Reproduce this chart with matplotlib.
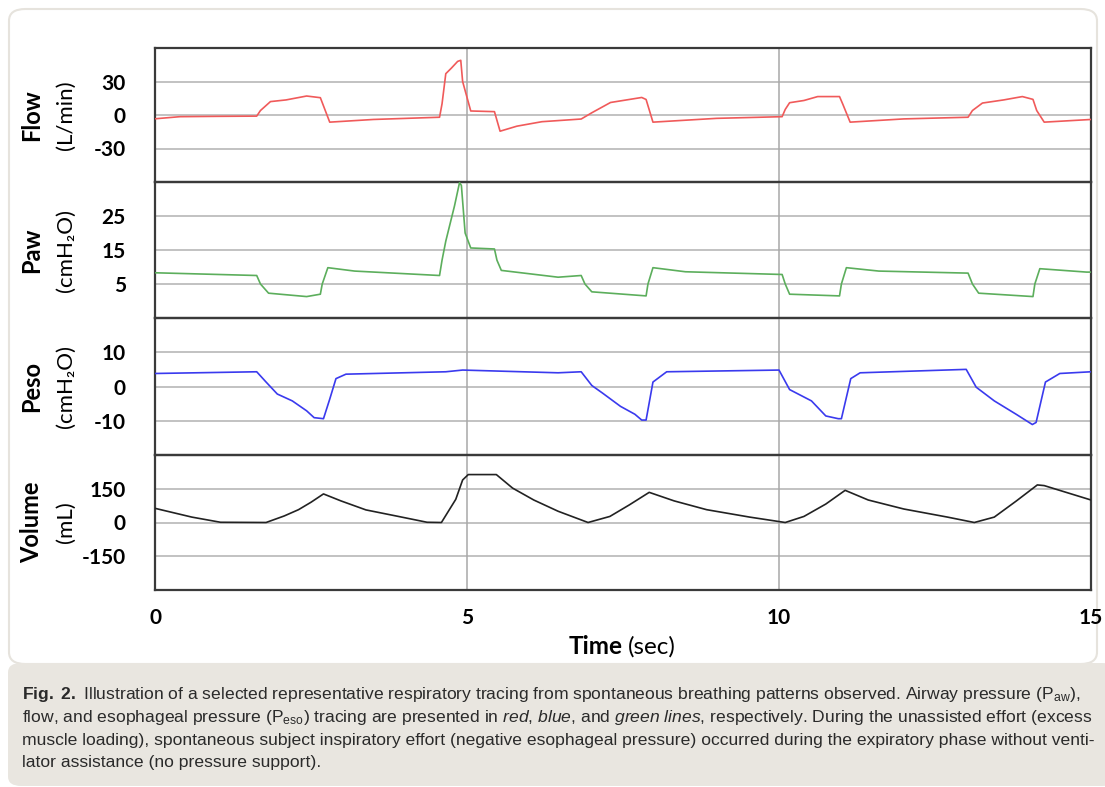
#!/usr/bin/env python3
"""Respiratory tracing figure (flow, Paw, Peso, volume)"""
import matplotlib
matplotlib.use('Agg')
import matplotlib.pyplot as plt
from matplotlib.patches import FancyBboxPatch

plt.rcParams['mathtext.fontset'] = 'custom'
plt.rcParams['mathtext.rm'] = 'Liberation Sans'
plt.rcParams['mathtext.it'] = 'Liberation Sans:italic'
plt.rcParams['mathtext.bf'] = 'Liberation Sans:bold'

W, H = 1105, 787

# ---- data (time in sec) ----
flow_t = [0, 0.4, 1.0, 1.63, 1.69, 1.85, 2.1, 2.43, 2.65, 2.8, 3.5, 4.56, 4.6, 4.66,
          4.75, 4.85, 4.9, 4.93, 5.06, 5.44, 5.53, 5.8, 6.2, 6.83, 7.0, 7.3, 7.8, 7.87,
          7.98, 9.0, 10.05, 10.1, 10.17, 10.4, 10.62, 10.97, 11.02, 11.14, 12.0, 13.03,
          13.1, 13.26, 13.6, 13.9, 14.07, 14.13, 14.25, 15]
flow_v = [-3.4, -1.5, -1.2, -1, 4, 12, 13.5, 17, 15.5, -6.4, -4, -2, 10, 37,
          42, 48, 49, 30, 3.6, 3, -14.5, -10, -6, -3.6, 2, 11.2, 15.7, 13.9,
          -6.4, -3, -1.5, 5, 11, 13, 16.5, 16.5, 10, -6.4, -3.5, -2,
          4, 10.7, 13.5, 16.5, 14, 4, -6.4, -4]

paw_t = [0, 1.63, 1.69, 1.82, 2.43, 2.65, 2.68, 2.77, 3.2, 4.56, 4.6, 4.66, 4.8, 4.88,
         4.91, 4.97, 5.06, 5.44, 5.48, 5.55, 6.46, 6.83, 6.89, 7.0, 7.87, 7.9, 7.98,
         8.5, 10.05, 10.1, 10.17, 10.97, 11.0, 11.08, 11.6, 13.03, 13.1, 13.2, 14.07,
         14.1, 14.18, 14.93, 15]
paw_v = [8.3, 7.5, 5, 2.3, 1.3, 2, 5, 9.8, 8.8, 7.5, 12, 17.6, 28, 34.8,
         34, 20, 15.6, 15.3, 12, 9, 7, 7.5, 5, 2.7, 1.5, 5, 9.8,
         8.6, 7.8, 5, 2, 1.5, 5, 9.8, 8.8, 8.2, 5, 2.3, 1.3,
         5, 9.5, 8.5, 8.5]

peso_t = [0, 1.63, 1.78, 1.96, 2.2, 2.43, 2.55, 2.7, 2.8, 2.9, 3.06, 4.66, 4.93, 6.46,
          6.83, 7.0, 7.17, 7.46, 7.69, 7.8, 7.87, 7.98, 8.2, 10.0, 10.17, 10.52, 10.75,
          10.95, 11.0, 11.15, 11.3, 13.0, 13.16, 13.45, 13.8, 14.06, 14.12, 14.27,
          14.5, 15]
peso_v = [3.8, 4.3, 1.3, -2.2, -4.2, -7.1, -9.1, -9.4, -3.7, 2.3, 3.6, 4.3, 4.8, 4.0,
          4.3, 0.3, -1.9, -5.8, -8.1, -9.8, -9.8, 1.3, 4.3, 4.8, -0.9, -4.2, -8.6,
          -9.4, -9.4, 2.3, 4.0, 5.0, -0.2, -4.2, -8.1, -11.1, -10.5, 1.3,
          3.8, 4.3]

vol_t = [0, 0.59, 1.05, 1.78, 2.07, 2.3, 2.5, 2.7, 2.98, 3.38, 3.9, 4.36, 4.59, 4.82,
         4.93, 5.02, 5.47, 5.73, 6.07, 6.46, 6.94, 7.29, 7.6, 7.92, 8.32, 8.84, 9.53,
         10.1, 10.4, 10.75, 11.06, 11.43, 12.0, 12.7, 13.13, 13.45, 13.8, 14.14, 14.25,
         15]
vol_v = [63, 24, 1, 0, 29, 57, 90, 127, 96, 56, 27, 1, 0, 103,
         189, 213, 213, 153, 100, 50, 0, 27, 78, 134, 96, 57, 24,
         0, 27, 82, 143, 100, 60, 24, 0, 24, 95, 167, 164,
         100]

x_ticks = [0, 5, 10, 15]

panels = [
    # name, unit, t, v, color, ylim, gridlines, labelled ticks, top px, bottom px
    ('Flow', '(L/min)', flow_t, flow_v, '#F05A5A', (-60, 60), [-30, 0, 30], [30, 0, -30], 48, 182),
    ('Paw', '(cmH\u2082O)', paw_t, paw_v, '#5CAE5C', (-5, 35), [5, 15, 25], [25, 15, 5], 182, 318),
    ('Peso', '(cmH\u2082O)', peso_t, peso_v, '#3A3AEE', (-20, 20), [-10, 0, 10], [10, 0, -10], 318, 455),
    ('Volume', '(mL)', vol_t, vol_v, '#222222', (-300, 300), [-150, 0, 150], [150, 0, -150], 455, 590),
]

fig = plt.figure(figsize=(W / 100, H / 100), dpi=100)
fig.patch.set_facecolor('white')

def fx(x):
    return x / W

def fy(y):
    return 1 - y / H

# page frame and caption background
frame = FancyBboxPatch((fx(9), fy(664)), fx(1097) - fx(9), fy(9) - fy(664),
                       boxstyle='round,pad=0,rounding_size=0.015',
                       transform=fig.transFigure, facecolor='white',
                       edgecolor='#E6E3DD', linewidth=1.5, zorder=-2)
fig.patches.append(frame)
cap = FancyBboxPatch((fx(8), fy(786)), fx(1115) - fx(8), fy(663) - fy(786),
                     boxstyle='round,pad=0,rounding_size=0.012',
                     transform=fig.transFigure, facecolor='#E9E6E0',
                     edgecolor='none', zorder=-2)
fig.patches.append(cap)

left, right = 155, 1091
label_font = ['Lato', 'DejaVu Sans']
axes = []
for name, unit, t, v, color, ylim, grid, ticks, top, bot in panels:
    ax = fig.add_axes([fx(left), fy(bot), fx(right) - fx(left), fy(top) - fy(bot)])
    ax.plot(t, v, color=color, linewidth=1.2, zorder=3)
    ax.set_xlim(0, 15)
    ax.set_ylim(*ylim)
    for g in grid:
        ax.axhline(g, color='#BDBDBD', linewidth=1.3, zorder=1)
    for xv in [5, 10]:
        ax.axvline(xv, color='#A8A8A8', linewidth=1.1, zorder=1)
    ax.set_yticks(ticks)
    ax.set_yticklabels([str(k) for k in ticks], fontsize=15, fontweight='bold',
                       family=label_font)
    ax.tick_params(axis='both', length=0, pad=21)
    ax.set_xticks(x_ticks)
    for s in ax.spines.values():
        s.set_color('#3A3A3A')
        s.set_linewidth(1.6)
    ax.set_facecolor('none')
    yc = (top + bot) / 2
    fig.text(fx(32), fy(yc), name, rotation=90, ha='center', va='center',
             fontsize=17, fontweight='bold', family=label_font)
    fig.text(fx(66), fy(yc), unit, rotation=90, ha='center', va='center',
             fontsize=16, family=label_font)
    axes.append(ax)

for ax in axes[:-1]:
    ax.set_xticklabels([])
axes[-1].set_xticklabels([str(k) for k in x_ticks], fontsize=15, fontweight='bold',
                         family=label_font)
axes[-1].tick_params(axis='x', pad=13)

fig.text(fx(623), fy(647), 'Time', ha='right', va='center', fontsize=17.5,
         fontweight='bold', family=label_font)
fig.text(fx(628), fy(647), '(sec)', ha='left', va='center', fontsize=17.5,
         family=label_font)

# caption
cap_lines = [
    r'$\bf{Fig.\ 2.}$ Illustration of a selected representative respiratory tracing from spontaneous breathing patterns observed. Airway pressure (P$_{\rm aw}$),',
    r'flow, and esophageal pressure (P$_{\rm eso}$) tracing are presented in $\it{red}$, $\it{blue}$, and $\it{green\ lines}$, respectively. During the unassisted effort (excess',
    'muscle loading), spontaneous subject inspiratory effort (negative esophageal pressure) occurred during the expiratory phase without venti-',
    'lator assistance (no pressure support).',
]
cap_texts = []
for i, line in enumerate(cap_lines):
    cap_texts.append(fig.text(fx(22), fy(695 + i * 22.5), line, ha='left', va='center',
                              fontsize=11, color='#2A2A2A',
                              family=['Liberation Sans', 'DejaVu Sans']))

# fit the caption width to the panel (first line spans ~22..1090 px)
renderer = fig.canvas.get_renderer()
widest = max(tx.get_window_extent(renderer).width for tx in cap_texts[:2])
size = 11 * 1068 / widest
for tx in cap_texts:
    tx.set_fontsize(size)

fig.savefig('out.png', dpi=100)
plt.close(fig)
